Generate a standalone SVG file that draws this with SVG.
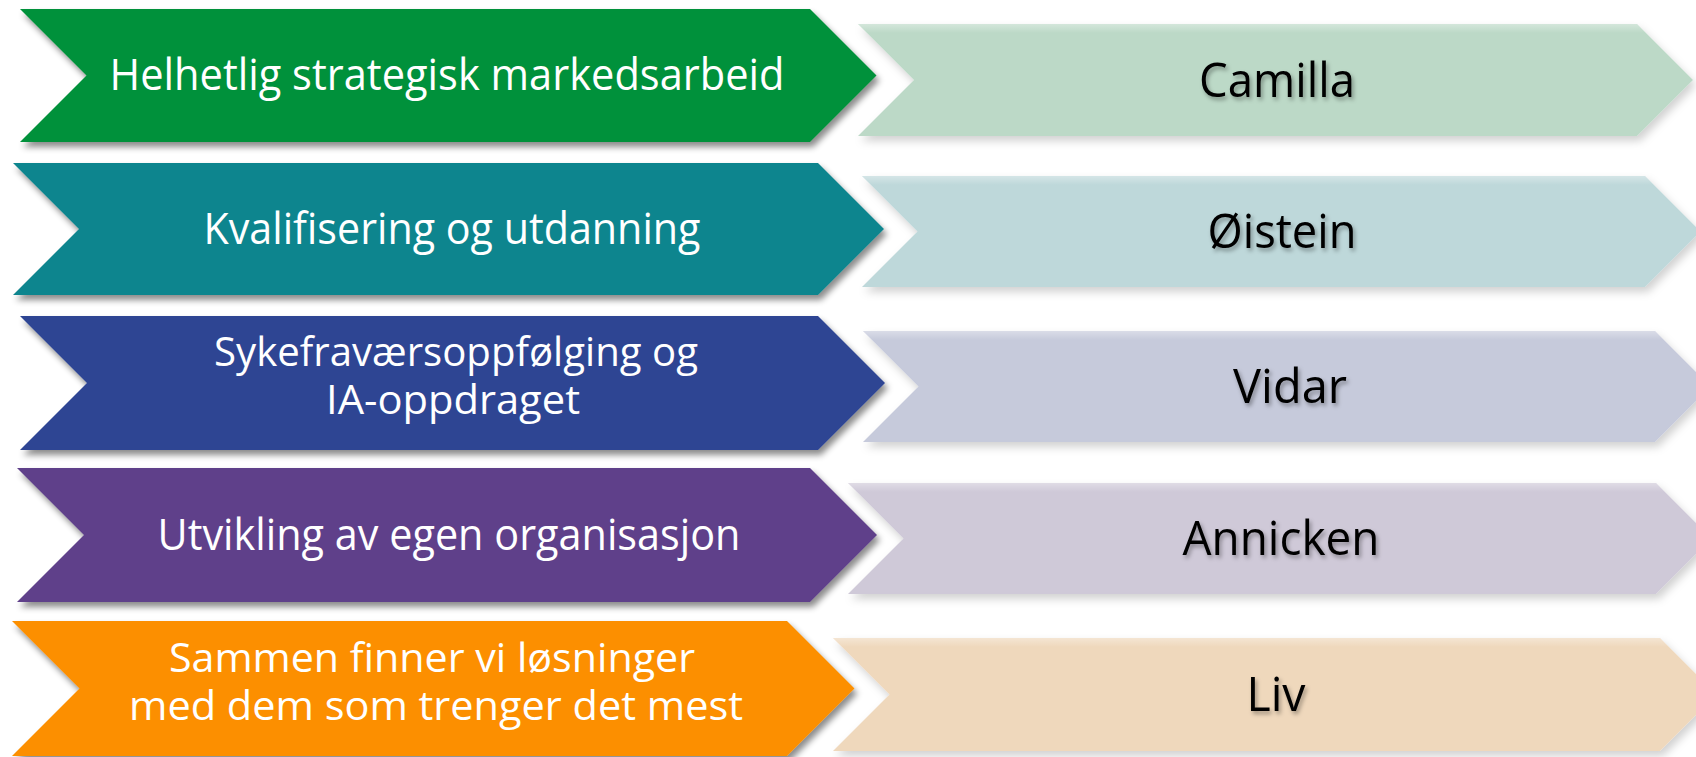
<svg xmlns="http://www.w3.org/2000/svg" width="1696" height="757" viewBox="0 0 1696 757">
<defs>
<filter id="sh" x="-5%" y="-20%" width="115%" height="150%">
<feDropShadow dx="3" dy="5" stdDeviation="3" flood-color="#000" flood-opacity="0.45"/>
</filter>
<filter id="shr" x="-5%" y="-20%" width="115%" height="150%">
<feDropShadow dx="3" dy="5" stdDeviation="4" flood-color="#000" flood-opacity="0.18"/>
</filter>
<filter id="tsh" x="-20%" y="-30%" width="140%" height="170%">
<feDropShadow dx="2" dy="3" stdDeviation="2" flood-color="#000" flood-opacity="0.35"/>
</filter>
<linearGradient id="edge" x1="0" y1="0" x2="0" y2="1">
<stop offset="0" stop-color="#fff" stop-opacity="0.35"/>
<stop offset="0.08" stop-color="#fff" stop-opacity="0"/>
<stop offset="1" stop-color="#fff" stop-opacity="0"/>
</linearGradient>
</defs>
<style>
.l{filter:url(#sh)}
.r{filter:url(#shr)}
.lt{font-family:"Open Sans","Noto Sans","Liberation Sans",sans-serif;font-size:43px;fill:#fff;text-anchor:middle}
.lt2{font-size:41px}
.rt{font-family:"Open Sans","Noto Sans","Liberation Sans",sans-serif;font-size:47px;fill:#000;text-anchor:middle;filter:url(#tsh)}
</style>
<rect width="1696" height="757" fill="#fff"/>

<g id="right-1">
<polygon class="r" fill="#bcd9c7" points="858,24 1637,24 1693,80 1637,136 858,136 914,80"/>
<polygon fill="url(#edge)" points="858,24 1637,24 1693,80 1637,136 858,136 914,80"/>
<text class="rt" x="1277" y="96.5" textLength="156" lengthAdjust="spacingAndGlyphs">Camilla</text>
</g>
<g id="right-2">
<polygon class="r" fill="#bed8da" points="862,176 1645,176 1700.5,231.5 1645,287 862,287 917.5,231.5"/>
<polygon fill="url(#edge)" points="862,176 1645,176 1700.5,231.5 1645,287 862,287 917.5,231.5"/>
<text class="rt" x="1282" y="248" textLength="149" lengthAdjust="spacingAndGlyphs">Øistein</text>
</g>
<g id="right-3">
<polygon class="r" fill="#c6cadb" points="863,331 1655,331 1710.5,386.5 1655,442 863,442 918.5,386.5"/>
<polygon fill="url(#edge)" points="863,331 1655,331 1710.5,386.5 1655,442 863,442 918.5,386.5"/>
<text class="rt" x="1290" y="403" textLength="114" lengthAdjust="spacingAndGlyphs">Vidar</text>
</g>
<g id="right-4">
<polygon class="r" fill="#cfc9d8" points="848,483 1656,483 1711.5,538.5 1656,594 848,594 903.5,538.5"/>
<polygon fill="url(#edge)" points="848,483 1656,483 1711.5,538.5 1656,594 848,594 903.5,538.5"/>
<text class="rt" x="1281" y="555" textLength="197" lengthAdjust="spacingAndGlyphs">Annicken</text>
</g>
<g id="right-5">
<polygon class="r" fill="#efd8bc" points="833,638 1660,638 1716.5,694.5 1660,751 833,751 889.5,694.5"/>
<polygon fill="url(#edge)" points="833,638 1660,638 1716.5,694.5 1660,751 833,751 889.5,694.5"/>
<text class="rt" x="1276" y="711" textLength="59" lengthAdjust="spacingAndGlyphs">Liv</text>
</g>

<g id="left-1">
<polygon class="l" fill="#05913a" points="20,9 810,9 876.5,75.5 810,142 20,142 86.5,75.5"/>
<text class="lt" x="447" y="90" textLength="675" lengthAdjust="spacingAndGlyphs">Helhetlig strategisk markedsarbeid</text>
</g>
<g id="left-2">
<polygon class="l" fill="#11858e" points="13,163 818,163 884,229 818,295 13,295 79,229"/>
<text class="lt" x="452" y="244" textLength="497" lengthAdjust="spacingAndGlyphs">Kvalifisering og utdanning</text>
</g>
<g id="left-3">
<polygon class="l" fill="#2e4593" points="20,316 818,316 885,383 818,450 20,450 87,383"/>
<text class="lt lt2" x="456" y="366" textLength="484" lengthAdjust="spacingAndGlyphs">Sykefraværsoppfølging og</text>
<text class="lt lt2" x="453" y="414" textLength="254" lengthAdjust="spacingAndGlyphs">IA-oppdraget</text>
</g>
<g id="left-4">
<polygon class="l" fill="#5f3f8a" points="17,468 810,468 877,535 810,602 17,602 84,535"/>
<text class="lt" x="449" y="550" textLength="583" lengthAdjust="spacingAndGlyphs">Utvikling av egen organisasjon</text>
</g>
<g id="left-5">
<polygon class="l" fill="#fc8f00" points="12,621 787,621 854.5,688.5 787,756 12,756 79.5,688.5"/>
<text class="lt lt2" x="432" y="672" textLength="526" lengthAdjust="spacingAndGlyphs">Sammen finner vi løsninger</text>
<text class="lt lt2" x="436" y="720" textLength="614" lengthAdjust="spacingAndGlyphs">med dem som trenger det mest</text>
</g>
<g id="connectors"/>
</svg>
